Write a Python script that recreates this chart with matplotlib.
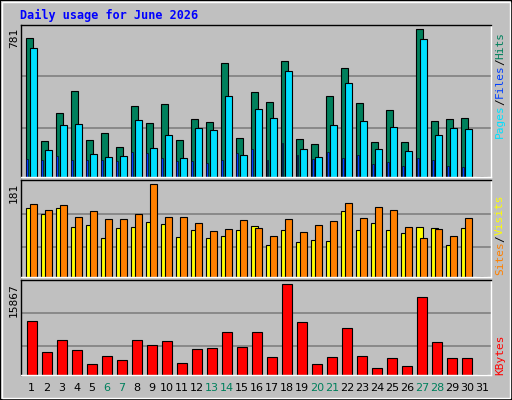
import matplotlib
matplotlib.use("Agg")
import matplotlib.pyplot as plt
from matplotlib.patches import Rectangle
import numpy as np

days = list(range(1, 32))
hits = [733,191,340,452,197,234,159,377,287,383,197,308,292,600,207,446,398,611,202,175,425,574,388,186,351,186,781,298,308,313,0]
files = [680,143,276,282,122,106,112,303,154,223,101,260,250,430,117,361,313,558,149,106,276,494,298,149,266,138,728,223,260,255,0]
pages = [96,90,112,90,90,90,85,133,128,101,85,85,74,90,128,149,90,181,117,96,133,101,117,69,80,58,101,90,58,53,0]
visits = [142,130,140,118,128,114,114,124,181,118,118,106,89,93,112,96,81,114,87,102,110,144,116,136,130,98,77,93,81,116,0]
sites = [134,124,134,98,102,77,96,98,108,104,79,91,77,81,92,100,63,91,69,73,71,128,92,106,91,85,98,96,63,96,0]
kbytes = [9415,4010,6102,4359,1918,3313,2615,6102,5231,5928,2092,4533,4708,7497,4882,7497,3138,15867,9241,1918,3138,8195,3313,1220,2964,1569,13600,5754,2964,2964,0]
weekend = [6,7,13,14,20,21,27,28]
title = "Daily usage for June 2026"

W, H = 512, 400
fig = plt.figure(figsize=(W/100, H/100), dpi=100, facecolor="#C0C0C0")
mono = "DejaVu Sans Mono"
fig.add_artist(Rectangle((0, 0), 1, 1, transform=fig.transFigure, fill=False, ec="black", lw=1.5))
fig.add_artist(Rectangle((2/W, 2/H), 1-4/W, 1-4/H, transform=fig.transFigure, fill=False, ec="white", lw=1))

fig.text(20/W, 1-15/H, title, color="#0000FF", fontsize=8.5, fontweight="bold", family=mono, va="center")

def panel(ytop, ybot):
    ax = fig.add_axes([21/W, 1-ybot/H, 470/W, (ybot-ytop)/H])
    ax.set_facecolor("#C0C0C0")
    ax.set_xlim(0.7, 32.0)
    ax.set_xticks([]); ax.set_yticks([])
    for s in ax.spines.values():
        s.set_color("black"); s.set_linewidth(1)
    ax.spines["right"].set_color("white"); ax.spines["bottom"].set_color("white")
    return ax

def maxlabel(txt, ytop_px):
    fig.text(14/W, 1-ytop_px/H, txt, rotation=90, ha="center", va="top", fontsize=8, family=mono)

x = np.array(days, dtype=float)
ax1 = panel(25, 177)
ax1.set_ylim(0, 781*151/147)
for f in (0.333, 0.68):
    ax1.axhline(781*f, color="#808080", lw=1.2, zorder=0)
ax1.bar(x, hits, width=0.47, align="edge", color="#00805C", ec="black", lw=0.8)
ax1.bar(x+0.27, files, width=0.47, align="edge", color="#00E0FF", ec="black", lw=0.8)
ax1.bar(x+0.05, pages, width=0.13, align="edge", color="#0040FF", ec="black", lw=0.4)
maxlabel("781", 28)

ax2 = panel(180, 277)
ax2.set_ylim(0, 181*96/91.7)
for f in (0.326, 0.685):
    ax2.axhline(181*f, color="#808080", lw=1.2, zorder=0)
ax2.bar(x, sites, width=0.45, align="edge", color="#FFFF00", ec="black", lw=0.8)
ax2.bar(x+0.27, visits, width=0.47, align="edge", color="#FF8000", ec="black", lw=0.8)
maxlabel("181", 183)

ax3 = panel(280, 375)
ax3.set_ylim(0, 15867*95/91)
for f in (0.32, 0.68):
    ax3.axhline(15867*f, color="#808080", lw=1.2, zorder=0)
ax3.bar(x+0.07, kbytes, width=0.67, align="edge", color="#FF0000", ec="black", lw=0.8)
maxlabel("15867", 283)

for d in days:
    ax3.text(d+0.4, -0.14, str(d), transform=ax3.get_xaxis_transform(), ha="center", va="center",
             fontsize=8, family="DejaVu Sans", color="#00805C" if d in weekend else "black")

def rlabel(ybot_px, parts):
    y = ybot_px
    for txt, col in parts:
        fig.text(500/W, 1-y/H, txt, rotation=90, color=col, fontsize=8, family=mono, ha="center", va="bottom")
        y -= len(txt)*6.6

rlabel(138, [("Pages", "#00E0FF"), ("/", "black"), ("Files", "#0040FF"), ("/", "black"), ("Hits", "#00805C")])
rlabel(275, [("Sites", "#FF8000"), ("/", "black"), ("Visits", "#FFFF00")])
rlabel(375, [("KBytes", "#FF0000")])

fig.savefig("out.png", dpi=100, facecolor=fig.get_facecolor())
